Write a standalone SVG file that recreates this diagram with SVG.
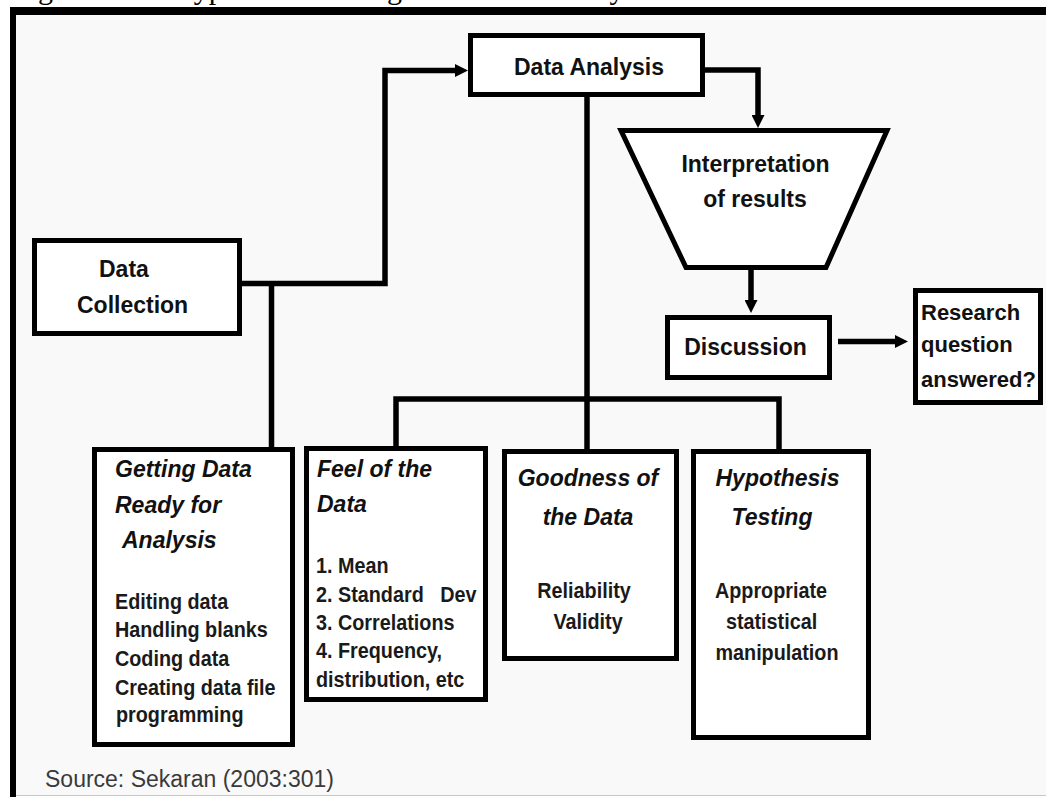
<svg xmlns="http://www.w3.org/2000/svg" width="1046" height="797" viewBox="0 0 1046 797">
<style>
.box{fill:#ffffff;stroke:#000;stroke-width:5}
.conn{fill:none;stroke:#000;stroke-width:5.5;stroke-linejoin:miter}
.t{font-family:"Liberation Sans",Arial,sans-serif;font-weight:bold;font-size:23px;fill:#111}
.r{font-family:"Liberation Sans",Arial,sans-serif;font-weight:bold;font-size:22px;fill:#111}
.h{font-family:"Liberation Sans",Arial,sans-serif;font-weight:bold;font-style:italic;font-size:23px;fill:#111}
.b{font-family:"Liberation Sans",Arial,sans-serif;font-weight:bold;font-size:22px;fill:#1a1a1a;white-space:pre}
.c{text-anchor:middle}
</style>
<defs>
<marker id="ah" markerUnits="userSpaceOnUse" viewBox="0 0 13 13" refX="0" refY="6.5" markerWidth="13" markerHeight="13" orient="auto">
<path d="M0,0 L13,6.5 L0,13 z" fill="#000"/>
</marker>
</defs>
<rect x="0" y="0" width="1046" height="797" fill="#ffffff"/>
<rect x="16" y="15" width="1030" height="780" fill="#f9f9f9"/>
<line x1="16" y1="795.5" x2="1046" y2="795.5" stroke="#c8c8c8" stroke-width="1"/>
<text x="13" y="-1" font-family="Liberation Serif,'Times New Roman',serif" font-size="30" fill="#000">Figure 3.1: A Typical Flow Diagram of Data Analysis Process</text>
<rect x="10" y="7" width="1036" height="8" fill="#000"/>
<rect x="10" y="7" width="6" height="790" fill="#000"/>

<g id="connectors">
<path class="conn" d="M242,283.5 H385 V70.5 H455" marker-end="url(#ah)"/>
<path class="conn" d="M271.5,283.5 V447"/>
<path class="conn" d="M705,70 H758 V115" marker-end="url(#ah)"/>
<path class="conn" d="M751,270 V300" marker-end="url(#ah)"/>
<path class="conn" d="M838,341.5 H895" marker-end="url(#ah)"/>
<path class="conn" d="M587,97 V449"/>
<path class="conn" d="M396,447 V399 H779 V449"/>
</g>

<g id="data-analysis">
<rect class="box" x="470.5" y="35.5" width="232" height="59"/>
<text class="t" x="514" y="75">Data Analysis</text>
</g>

<g id="data-collection">
<rect class="box" x="34.5" y="240.5" width="205" height="93"/>
<text class="t" x="99" y="277">Data</text>
<text class="t" x="77" y="313">Collection</text>
</g>

<g id="interpretation">
<polygon class="box" points="621,130.5 887,130.5 826,267.5 686,267.5"/>
<text class="t c" x="755.5" y="172">Interpretation</text>
<text class="t c" x="755" y="207">of results</text>
</g>

<g id="discussion">
<rect class="box" x="667.5" y="317.5" width="162" height="60"/>
<text class="t c" x="745.5" y="355">Discussion</text>
</g>

<g id="research">
<rect class="box" x="915.5" y="290.5" width="125" height="112"/>
<text class="r" x="921" y="320">Research</text>
<text class="r" x="921" y="352">question</text>
<text class="r" x="921" y="387">answered?</text>
</g>

<g id="getting-data">
<rect class="box" x="94.5" y="449.5" width="198" height="295"/>
<text class="h" x="115" y="477">Getting Data</text>
<text class="h" x="115" y="513">Ready for</text>
<text class="h" x="122" y="548">Analysis</text>
<text class="b" transform="translate(115,609) scale(0.9,1)">Editing data</text>
<text class="b" transform="translate(115,637) scale(0.9,1)">Handling blanks</text>
<text class="b" transform="translate(115,666) scale(0.9,1)">Coding data</text>
<text class="b" transform="translate(115,695) scale(0.9,1)">Creating data file</text>
<text class="b" transform="translate(116,722) scale(0.9,1)">programming</text>
</g>

<g id="feel-of-data">
<rect class="box" x="306.5" y="448.5" width="179" height="251"/>
<text class="h" x="317" y="477">Feel of the</text>
<text class="h" x="317" y="512">Data</text>
<text class="b" transform="translate(316,573) scale(0.9,1)">1. Mean</text>
<text class="b" transform="translate(316,602) scale(0.9,1)">2. Standard   Dev</text>
<text class="b" transform="translate(316,630) scale(0.9,1)">3. Correlations</text>
<text class="b" transform="translate(316,658) scale(0.9,1)">4. Frequency,</text>
<text class="b" transform="translate(316,687) scale(0.9,1)">distribution, etc</text>
</g>

<g id="goodness-of-data">
<rect class="box" x="504.5" y="451.5" width="172" height="207"/>
<text class="h c" x="588" y="486">Goodness of</text>
<text class="h c" x="588" y="525">the Data</text>
<text class="b c" transform="translate(584,598) scale(0.9,1)">Reliability</text>
<text class="b c" transform="translate(588,629) scale(0.9,1)">Validity</text>
</g>

<g id="hypothesis-testing">
<rect class="box" x="693.5" y="451.5" width="175" height="286"/>
<text class="h c" x="777.5" y="486">Hypothesis</text>
<text class="h c" x="772" y="525">Testing</text>
<text class="b c" transform="translate(771,598) scale(0.9,1)">Appropriate</text>
<text class="b c" transform="translate(771.5,629) scale(0.9,1)">statistical</text>
<text class="b c" transform="translate(777,660) scale(0.9,1)">manipulation</text>
</g>

<text x="45" y="787" font-family="Liberation Sans,Arial,sans-serif" font-size="23" fill="#3a3a3a">Source: Sekaran (2003:301)</text>
</svg>
